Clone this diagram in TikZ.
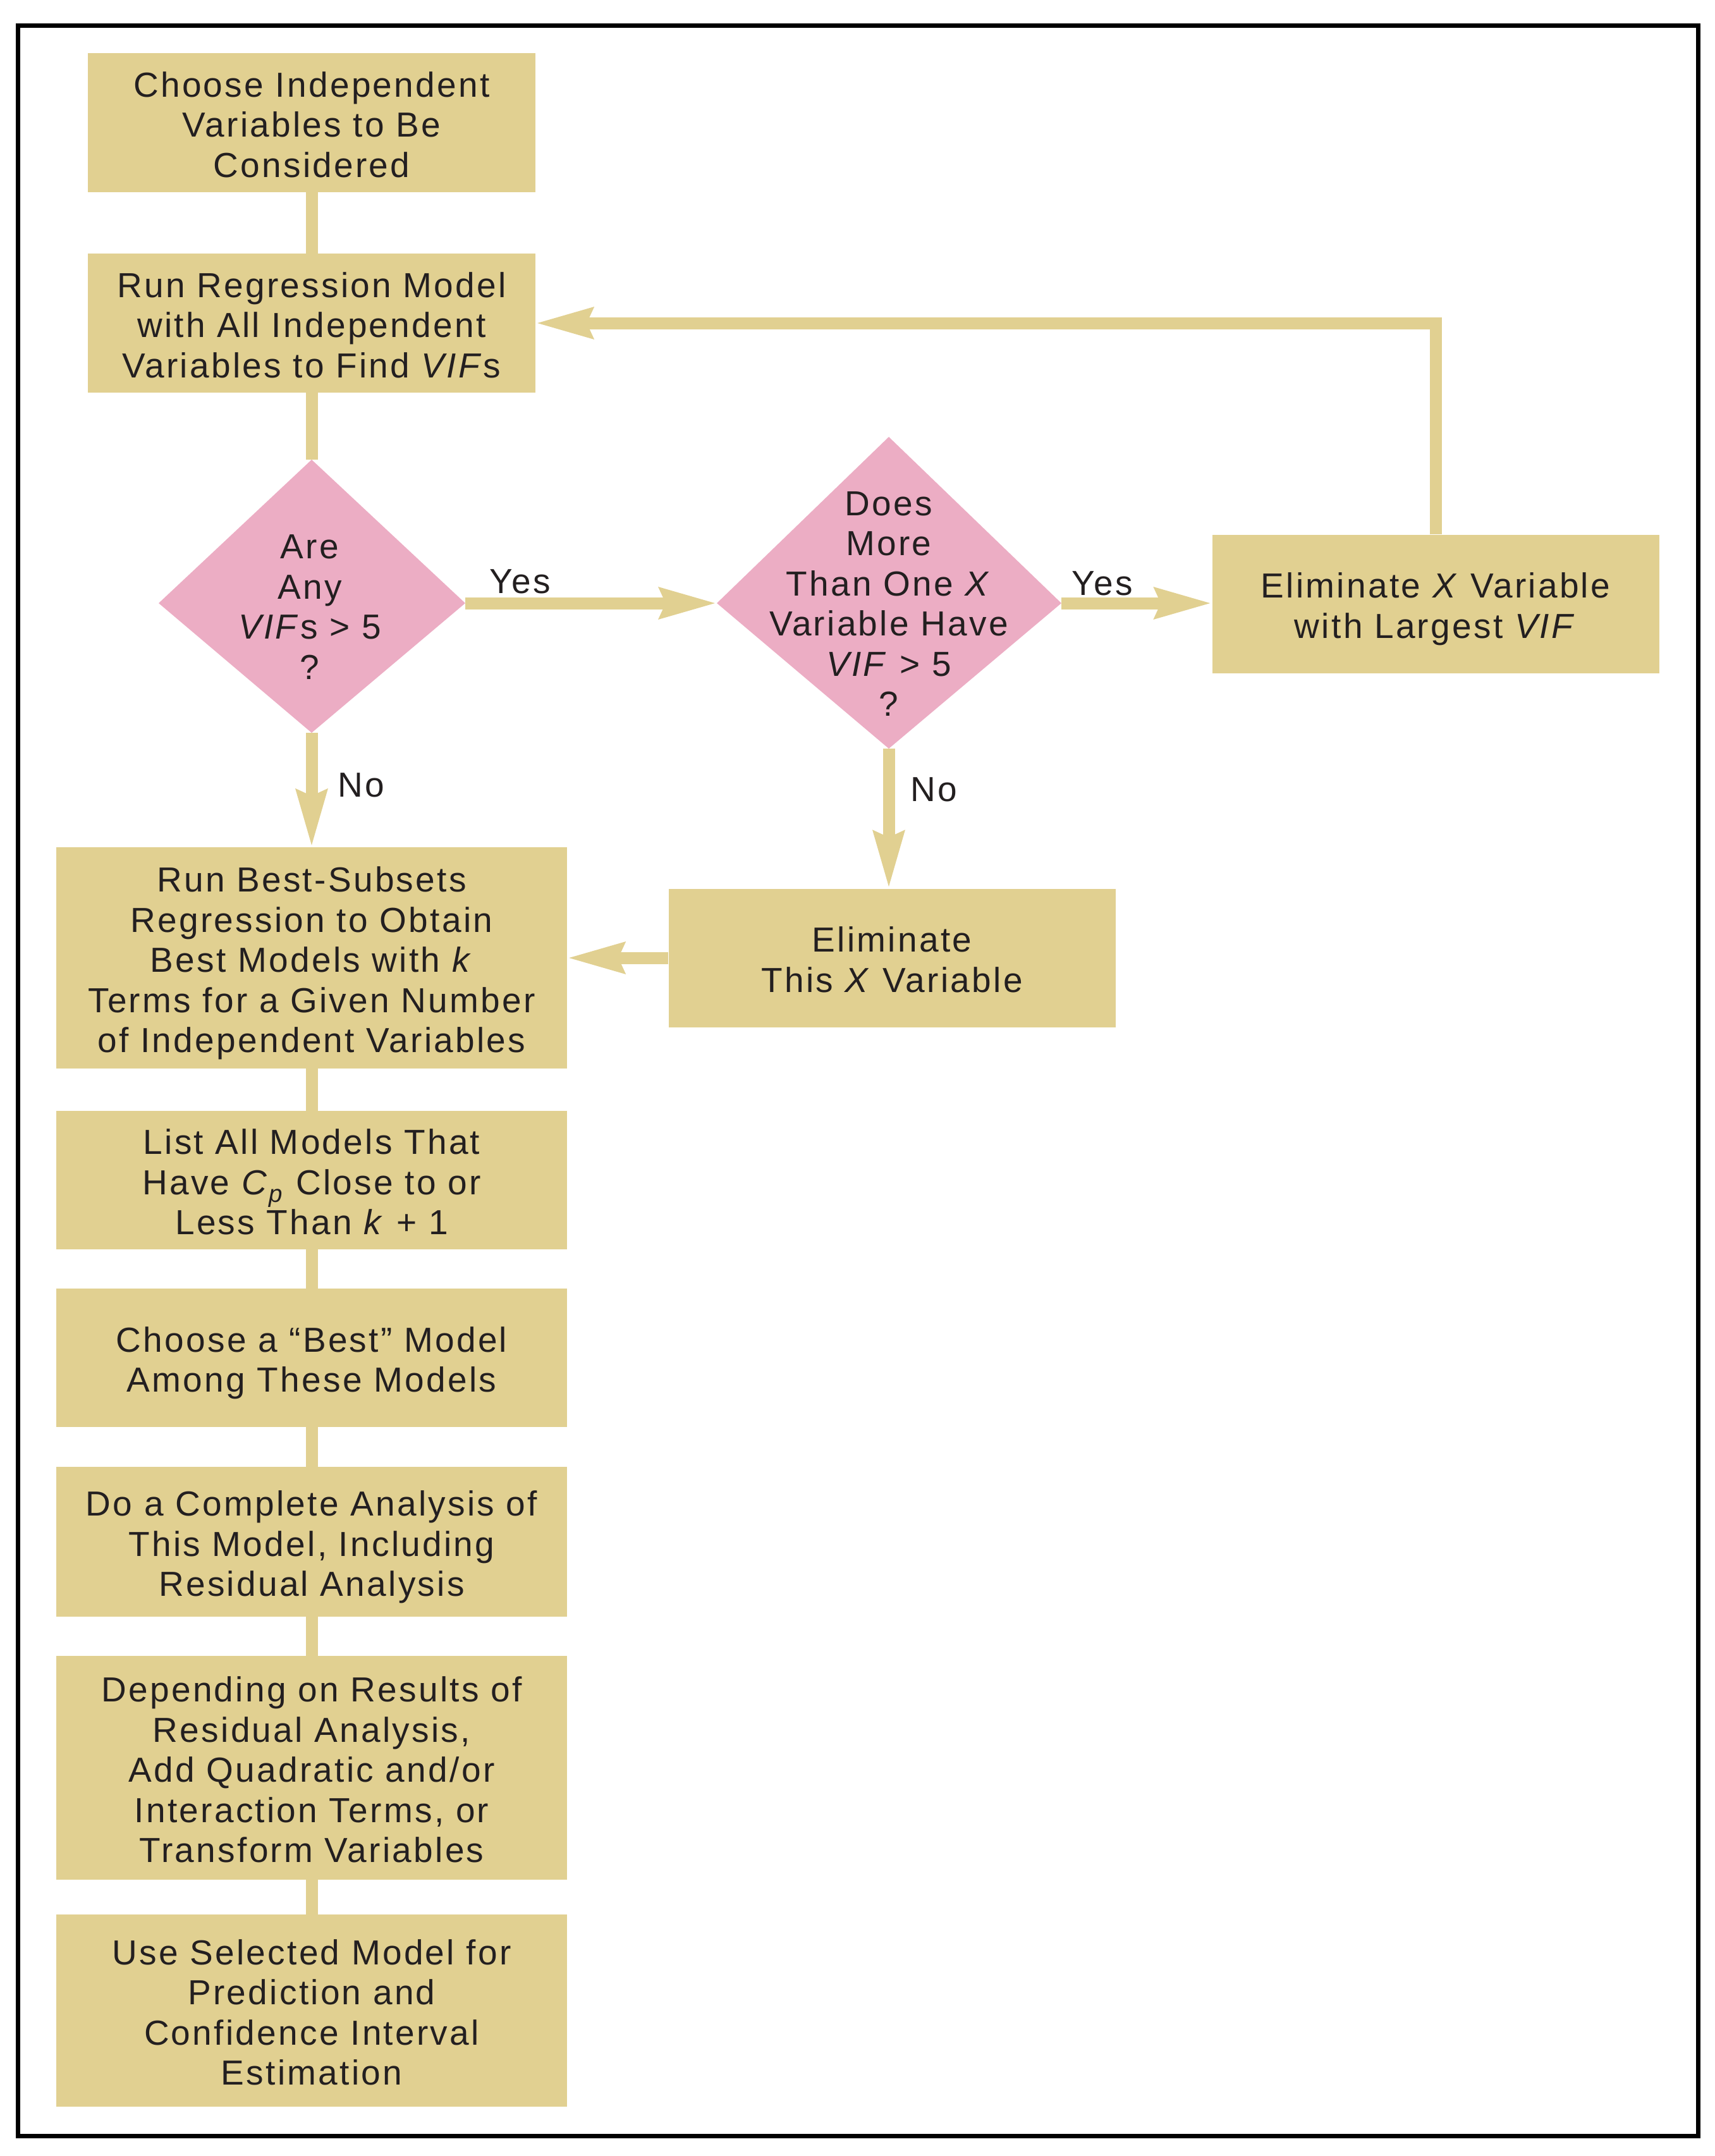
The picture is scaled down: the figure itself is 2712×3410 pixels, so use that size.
\documentclass[tikz,border=0pt]{standalone}
\usepackage{fontspec}
\setmainfont{Liberation Sans}[LetterSpace=6]
\usetikzlibrary{arrows.meta,calc}
\definecolor{boxtan}{RGB}{225,208,145}
\definecolor{pinkd}{RGB}{236,173,196}
\definecolor{ink}{RGB}{35,31,32}
\newcommand\topstrut{\rule{0pt}{60pt}}
\newcommand\botstrut{\rule[-15pt]{0pt}{15pt}}
\tikzset{
  box/.style={fill=boxtan, inner sep=0pt, align=center},
  lbl/.style={inner sep=0pt},
  link/.style={draw=boxtan, line width=19pt},
  arr/.style={link, -{Stealth[length=90pt,width=52pt,inset=12pt,line width=0pt]}, shorten >=3pt},
}
\begin{document}
\begin{tikzpicture}[x=1pt,y=-1pt,font=\fontsize{55}{63.5}\selectfont,text=ink]
\useasboundingbox (0,0) rectangle (2712,3410);
\draw[line width=7pt] (28.5,40.5) rectangle (2686.5,3378.5);

% boxes
\node[box, minimum width=708pt, minimum height=220pt] (b1) at (493,194)
  {\topstrut Choose Independent\\Variables to Be\\Considered\botstrut};
\node[box, minimum width=708pt, minimum height=220pt] (b2) at (493,511)
  {\topstrut Run Regression Model\\with All Independent\\Variables to Find \textit{VIF}s\botstrut};
\node[box, minimum width=707pt, minimum height=219pt] (e1) at (2271,955)
  {\topstrut Eliminate \textit{X} Variable\\with Largest \textit{VIF}\botstrut};
\node[box, minimum width=707pt, minimum height=219pt] (e2) at (1411,1515)
  {\topstrut Eliminate\\This \textit{X} Variable\botstrut};
\node[box, minimum width=808pt, minimum height=350pt] (b3) at (493,1515)
  {\topstrut Run Best-Subsets\\Regression to Obtain\\Best Models with \textit{k}\\Terms for a Given Number\\of Independent Variables\botstrut};
\node[box, minimum width=808pt, minimum height=219pt] (b4) at (493,1866.5)
  {\topstrut List All Models That\\Have \textit{C}\textsubscript{\textit{p}} Close to or\\Less Than \textit{k} + 1\botstrut};
\node[box, minimum width=808pt, minimum height=219pt] (b5) at (493,2147.5)
  {\topstrut Choose a “Best” Model\\Among These Models\botstrut};
\node[box, minimum width=808pt, minimum height=237pt] (b6) at (493,2438.5)
  {\topstrut Do a Complete Analysis of\\This Model, Including\\Residual Analysis\botstrut};
\node[box, minimum width=808pt, minimum height=354pt] (b7) at (493,2796)
  {\topstrut Depending on Results of\\Residual Analysis,\\Add Quadratic and/or\\Interaction Terms, or\\Transform Variables\botstrut};
\node[box, minimum width=808pt, minimum height=304pt] (b8) at (493,3180)
  {\topstrut Use Selected Model for\\Prediction and\\Confidence Interval\\Estimation\botstrut};

% diamonds
\coordinate (d1t) at (493,727);
\coordinate (d1l) at (251,954);
\coordinate (d1r) at (736,954);
\coordinate (d1b) at (493,1159);
\fill[pinkd] (d1t) -- (d1r) -- (d1b) -- (d1l) -- cycle;
\node[align=center, inner sep=0pt] (d1) at (490,960)
  {Are\\Any\\\textit{VIF}s > 5\\?};

\coordinate (d2t) at (1406,691);
\coordinate (d2l) at (1134,954);
\coordinate (d2r) at (1679,954);
\coordinate (d2b) at (1406,1184);
\fill[pinkd] (d2t) -- (d2r) -- (d2b) -- (d2l) -- cycle;
\node[align=center, inner sep=0pt] (d2) at (1406,955)
  {Does\\More\\Than One \textit{X}\\Variable Have\\\textit{VIF} > 5\\?};

% connectors
\draw[link] (b1) -- (b2);
\draw[link] (b2) -- (d1t);
\draw[arr] (d1r) -- (d2l);
\draw[arr] (d2r) -- (d2r -| e1.west);
\draw[arr] (e1.north) |- (b2.east);
\draw[arr] (d1b) -- (b3);
\draw[arr] (d2b) -- (d2b |- e2.north);
\draw[arr] (e2.west) -- (e2.west -| b3.east);
\draw[link] (b3) -- (b4);
\draw[link] (b4) -- (b5);
\draw[link] (b5) -- (b6);
\draw[link] (b6) -- (b7);
\draw[link] (b7) -- (b8);

% labels
\node[lbl] (yes1) at (823,920) {Yes};
\node[lbl] (yes2) at (1744,923) {Yes};
\node[lbl] (no1) at (571,1242) {No};
\node[lbl] (no2) at (1477,1249) {No};
\end{tikzpicture}
\end{document}
